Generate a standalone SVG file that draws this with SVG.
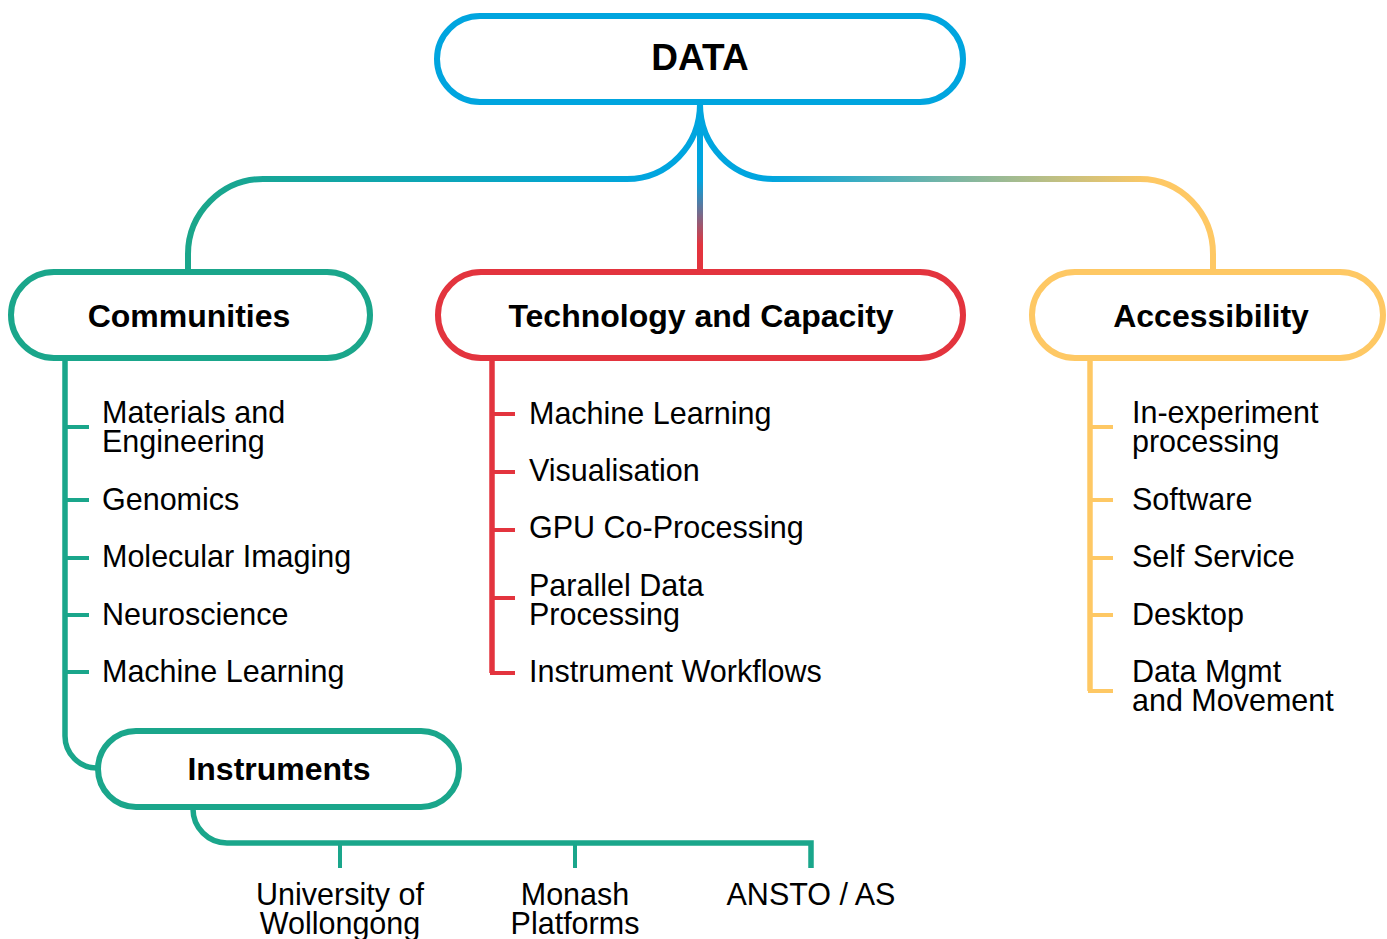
<svg xmlns="http://www.w3.org/2000/svg" width="1387" height="939" viewBox="0 0 1387 939">
  <style>
    .node { fill: #ffffff; stroke-width: 6; }
    .blue { stroke: #00a5df; }
    .teal { stroke: #1aa68b; }
    .red { stroke: #e3343e; }
    .yellow { stroke: #fec864; }
    .head { font-family: "Liberation Sans", Arial, sans-serif; font-weight: bold; font-size: 32px; fill: #000; text-anchor: middle; }
    .item { font-family: "Liberation Sans", Arial, sans-serif; font-size: 30.5px; fill: #000; }
    .mid { text-anchor: middle; }
    .link { fill: none; stroke-width: 6; }
    .trunk { fill: none; stroke-width: 5.5; }
    .tick { fill: none; stroke-width: 4; }
  </style>
  <defs>
    <linearGradient id="gLeft" gradientUnits="userSpaceOnUse" x1="200" y1="0" x2="650" y2="0">
      <stop offset="0" stop-color="#1aa68b"/>
      <stop offset="1" stop-color="#00a5df"/>
    </linearGradient>
    <linearGradient id="gRight" gradientUnits="userSpaceOnUse" x1="770" y1="0" x2="1150" y2="0">
      <stop offset="0" stop-color="#00a5df"/>
      <stop offset="1" stop-color="#fec864"/>
    </linearGradient>
    <linearGradient id="gMid" gradientUnits="userSpaceOnUse" x1="0" y1="180" x2="0" y2="245">
      <stop offset="0" stop-color="#00a5df"/>
      <stop offset="1" stop-color="#e3343e"/>
    </linearGradient>
  </defs>

  <!-- connectors -->
  <g id="connectors">
    <path class="link" stroke="url(#gLeft)" d="M700,104 C700,145 668,179 627,179 H263 C222,179 188,213 188,254 V272"/>
    <path class="link" stroke="url(#gRight)" d="M700,104 C700,145 732,179 773,179 H1140 C1181,179 1213,213 1213,254 V272"/>
    <path class="link" stroke="url(#gMid)" d="M700,104 V272"/>

    <!-- Communities branch -->
    <path class="trunk teal" d="M65,358 V736 A32,32 0 0 0 97,768"/>
    <path class="tick teal" d="M65,427 H89 M65,500 H89 M65,558 H89 M65,615 H89 M65,672 H89"/>

    <!-- Technology branch -->
    <path class="trunk red" d="M492,358 V673"/>
    <path class="tick red" d="M492,414 H515 M492,472 H515 M492,530 H515 M492,598 H515 M490,673 H515"/>

    <!-- Accessibility branch -->
    <path class="trunk yellow" d="M1090,358 V691"/>
    <path class="tick yellow" d="M1090,427 H1113 M1090,500 H1113 M1090,558 H1113 M1090,615 H1113 M1088,691 H1113"/>

    <!-- Instruments branch -->
    <path class="trunk teal" d="M193,807 V809 A34,34 0 0 0 227,843 H811 V868"/>
    <path class="tick teal" d="M340,843 V868 M575,843 V868"/>
  </g>

  <g id="node-data">
    <rect class="node blue" x="437" y="16" width="526" height="86" rx="43"/>
    <text class="head" x="700" y="70" style="font-size:37px">DATA</text>
  </g>

  <g id="node-communities">
    <rect class="node teal" x="11" y="272" width="359" height="86" rx="43"/>
    <text class="head" x="189" y="327">Communities</text>
  </g>

  <g id="node-technology">
    <rect class="node red" x="438" y="272" width="525" height="86" rx="43"/>
    <text class="head" x="701" y="327">Technology and Capacity</text>
  </g>

  <g id="node-accessibility">
    <rect class="node yellow" x="1032" y="272" width="351" height="86" rx="43"/>
    <text class="head" x="1211" y="327">Accessibility</text>
  </g>

  <g id="node-instruments">
    <rect class="node teal" x="98" y="731" width="361" height="76" rx="38"/>
    <text class="head" x="279" y="780">Instruments</text>
  </g>

  <g id="list-communities">
    <text class="item" x="102" y="423">Materials and<tspan x="102" dy="29">Engineering</tspan></text>
    <text class="item" x="102" y="510">Genomics</text>
    <text class="item" x="102" y="567">Molecular Imaging</text>
    <text class="item" x="102" y="625">Neuroscience</text>
    <text class="item" x="102" y="682">Machine Learning</text>
  </g>

  <g id="list-technology">
    <text class="item" x="529" y="424">Machine Learning</text>
    <text class="item" x="529" y="481">Visualisation</text>
    <text class="item" x="529" y="538">GPU Co-Processing</text>
    <text class="item" x="529" y="596">Parallel Data<tspan x="529" dy="29">Processing</tspan></text>
    <text class="item" x="529" y="682">Instrument Workflows</text>
  </g>

  <g id="list-accessibility">
    <text class="item" x="1132" y="423">In-experiment<tspan x="1132" dy="29">processing</tspan></text>
    <text class="item" x="1132" y="510">Software</text>
    <text class="item" x="1132" y="567">Self Service</text>
    <text class="item" x="1132" y="625">Desktop</text>
    <text class="item" x="1132" y="682">Data Mgmt<tspan x="1132" dy="29">and Movement</tspan></text>
  </g>

  <g id="list-instruments">
    <text class="item mid" x="340" y="905">University of<tspan x="340" dy="29">Wollongong</tspan></text>
    <text class="item mid" x="575" y="905">Monash<tspan x="575" dy="29">Platforms</tspan></text>
    <text class="item mid" x="811" y="905">ANSTO / AS</text>
  </g>
</svg>
